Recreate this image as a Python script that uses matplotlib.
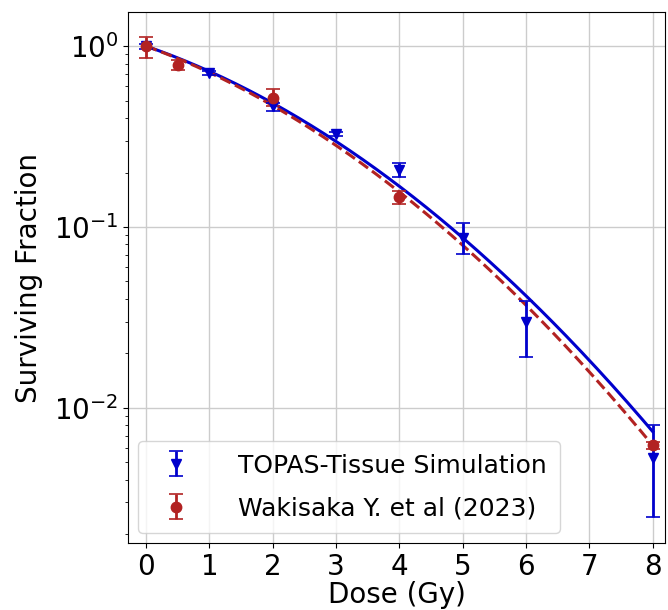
import numpy as np
import matplotlib
matplotlib.use("Agg")
import matplotlib.pyplot as plt

# --- data
topas_dose = [0, 1, 2, 3, 4, 5, 6, 8]
topas_sf = [1.0, 0.71, 0.466, 0.327, 0.206, 0.087, 0.030, 0.0053]
topas_err_lo = [0.03, 0.02, 0.03, 0.01, 0.016, 0.016, 0.011, 0.0028]
topas_err_hi = [0.03, 0.02, 0.02, 0.01, 0.02, 0.018, 0.009, 0.0027]

waki_dose = [0, 0.5, 2, 4, 8]
waki_sf = [1.0, 0.785, 0.516, 0.146, 0.0062]
waki_err_lo = [0.14, 0.05, 0.05, 0.012, 0.0003]
waki_err_hi = [0.13, 0.05, 0.06, 0.012, 0.0003]

# LQ fit parameters (alpha, beta)
topas_ab = (0.279, 0.0418)
waki_ab = (0.293, 0.0428)

plt.rcParams["font.size"] = 20

fig = plt.figure(figsize=(6.68, 6.10), dpi=100)
ax = fig.add_axes([0.192, 0.110, 0.804, 0.870])

d = np.linspace(0, 8, 200)
ax.plot(d, np.exp(-topas_ab[0] * d - topas_ab[1] * d**2), color="#0000cc", lw=2.2)
ax.plot(d, np.exp(-waki_ab[0] * d - waki_ab[1] * d**2), color="#b22222", lw=2.2, ls="--")

ax.errorbar(topas_dose, topas_sf, yerr=[topas_err_lo, topas_err_hi], fmt="v",
            color="#0000cc", ms=7.5, capsize=5, elinewidth=2, capthick=1.2,
            label="TOPAS-Tissue Simulation")
ax.errorbar(waki_dose, waki_sf, yerr=[waki_err_lo, waki_err_hi], fmt="o",
            color="#b22222", ms=7.5, capsize=5, elinewidth=2, capthick=1.2,
            label="Wakisaka Y. et al (2023)")

ax.set_yscale("log")
ax.set_xlim(-0.28, 8.2)
ax.set_ylim(0.00179, 1.54)
ax.set_xticks(range(0, 9))
ax.grid(True, which="major", color="#cccccc", lw=1)
ax.set_xlabel("Dose (Gy)", labelpad=0)
ax.set_ylabel("Surviving Fraction", labelpad=8)
ax.legend(loc="lower left", fontsize=18, handletextpad=1.5, labelspacing=0.75,
          borderaxespad=0.4, borderpad=0.5)

fig.savefig("out.png", dpi=100)
